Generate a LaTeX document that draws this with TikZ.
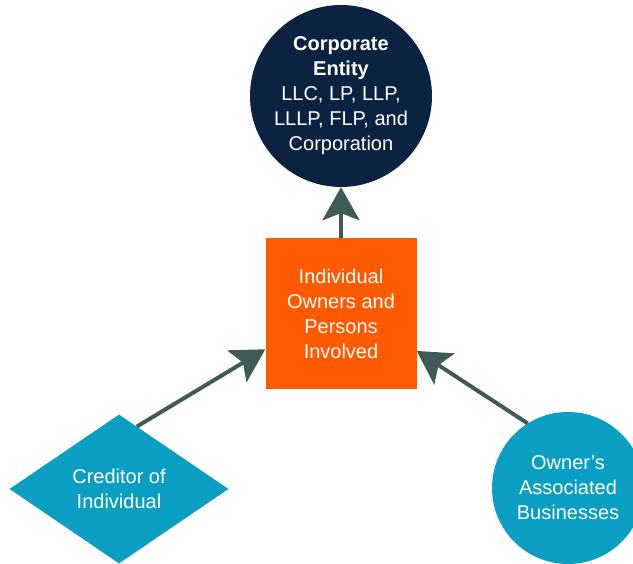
\documentclass[tikz,border=0pt]{standalone}
\usepackage{fontspec}
\setmainfont{Liberation Sans}
\usetikzlibrary{shapes.geometric,arrows.meta}
\definecolor{navy}{HTML}{0B2240}
\definecolor{tangerine}{HTML}{FF5A00}
\definecolor{seablue}{HTML}{0A9EC2}
\definecolor{slate}{HTML}{3E5B57}

\begin{document}
\begin{tikzpicture}
      [x=1pt,y=1pt
      ,txt/.style={text=white,align=center,inner sep=0,font=\fontsize{20}{25}\selectfont}
      ,entity/.style={txt,circle,fill=navy,minimum size=182pt}
      ,owner/.style={txt,rectangle,fill=tangerine,minimum size=151pt}
      ,creditor/.style={txt,diamond,fill=seablue,minimum width=219pt,minimum height=149pt}
      ,business/.style={txt,circle,fill=seablue,minimum size=152pt}
      ,lin/.style={color=slate,line width=4pt,-{Stealth[length=33pt,width=37pt,inset=7pt]}}]
        \clip (0,0) rectangle (633,564);
        \node[entity] (ent) at (341,468)
          {\textbf{Corporate}\\\textbf{Entity}\\LLC, LP, LLP,\\LLLP, FLP, and\\Corporation};
        \node[owner] (own) at (341,250) {Individual\\Owners and\\Persons\\Involved};
        \node[creditor] (cre) at (119,75) {Creditor of\\Individual};
        \node[business] (bus) at (568,76) {Owner’s\\Associated\\Businesses};
        \draw[lin] (own.north) -- (ent.south);
        \draw[lin] (cre.74) -- (own.205);
        \draw[lin] (bus.122) -- (own.334);
      \end{tikzpicture}
\end{document}
